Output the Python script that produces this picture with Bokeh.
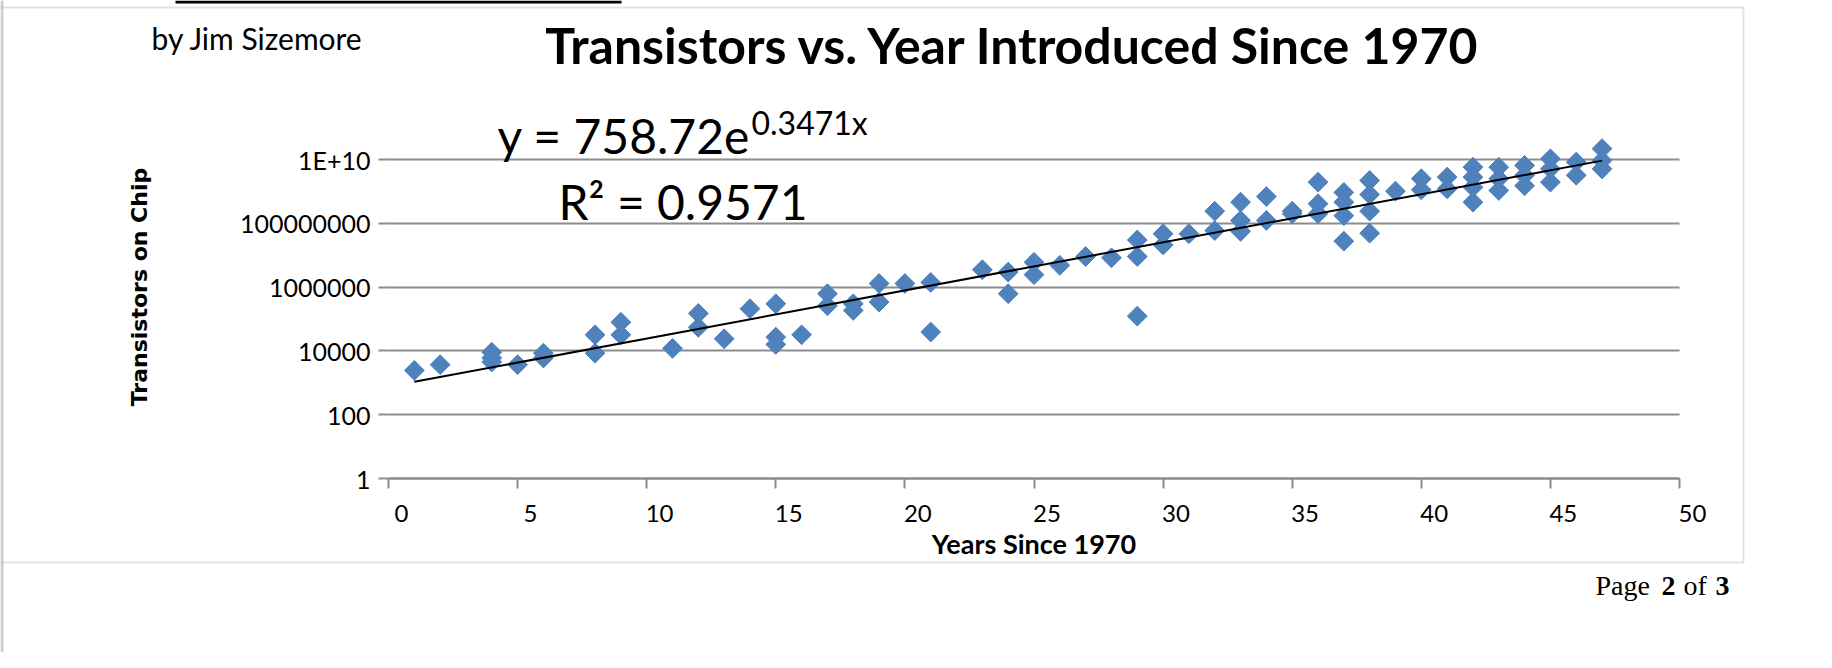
import numpy as np
from bokeh.plotting import figure
from bokeh.models import (Range1d, FixedTicker, LinearAxis, LogAxis, LogScale,
                          CustomJSTickFormatter, Label, BoxAnnotation, Grid)
from bokeh.embed import file_html
from bokeh.resources import INLINE

# ---------------- data ----------------
years_since_1970 = [1, 2, 4, 4, 4, 5, 6, 6, 8, 8, 9, 9, 11, 12, 12, 13, 14,
                    15, 15, 15, 16, 17, 17, 18, 18, 19, 19, 20, 21, 21, 23,
                    24, 24, 25, 25, 26, 27, 28, 29, 29, 29, 30, 30, 31, 32, 32,
                    33, 33, 33, 34, 34, 35, 35, 36, 36, 36, 37, 37, 37, 37,
                    38, 38, 38, 38, 39, 40, 40, 41, 41, 42, 42, 42, 42,
                    43, 43, 43, 44, 44, 44, 45, 45, 45, 46, 46, 47, 47, 47]
transistors = [2450, 3700, 9100, 6000, 4500, 3700, 8500, 6000, 32000, 8500,
               79000, 32000, 12000, 150000, 55000, 24000, 210000,
               300000, 27000, 16000, 32000, 620000, 260000, 300000, 186000,
               1300000, 340000, 1300000, 1400000, 39000, 3500000,
               2950000, 620000, 6000000, 2450000, 4800000, 9100000, 8300000,
               30000000, 9100000, 123000, 47000000, 21000000, 47000000,
               240000000, 59000000, 460000000, 123000000, 56000000,
               690000000, 123000000, 240000000, 200000000,
               1950000000, 410000000, 200000000,
               930000000, 460000000, 174000000, 27500000,
               2200000000, 800000000, 240000000, 49000000,
               1020000000, 2500000000, 1120000000, 2800000000, 1200000000,
               5750000000, 2800000000, 1350000000, 460000000,
               5750000000, 2500000000, 1070000000,
               6500000000, 3200000000, 1500000000,
               10500000000, 5100000000, 1950000000,
               8300000000, 3200000000,
               21900000000, 9300000000, 5100000000]
x_ticks = [0, 5, 10, 15, 20, 25, 30, 35, 40, 45, 50]
y_ticks = [1, 100, 10000, 1000000, 100000000, 10000000000]
trend_a = 758.72
trend_b = 0.3471
trend_x = [1, 47]
trend_y = [trend_a * np.exp(trend_b * v) for v in trend_x]

title_text = "Transistors vs. Year Introduced Since 1970"
author_text = "by Jim Sizemore"
eq_main = "y = 758.72e"
eq_sup = "0.3471x"
r2_text = "R² = 0.9571"

# ---------------- layout / styles ----------------
W, H = 1816, 652
PX_X0, PX_PER_X = 388, 25.82        # canvas px of x=0, px per year
PX_Y1, PX_PER_DEC = 478, 31.9       # canvas px (from top) of y=1, px per decade
BLUE = "#4F81BD"
GRID = "#8C8C8C"
BORDER = "#A0A0A0"
SANS = "Lato"

x_start = -PX_X0 / PX_PER_X
x_end = (W - PX_X0) / PX_PER_X
y_start = 10 ** (-(H - PX_Y1) / PX_PER_DEC)
y_end = 10 ** (PX_Y1 / PX_PER_DEC)

p = figure(width=W, height=H, title=None,
           x_range=Range1d(x_start, x_end), y_range=Range1d(y_start, y_end),
           y_axis_type="log", x_axis_location=None, y_axis_location=None,
           output_backend="svg", toolbar_location=None,
           min_border=0, min_border_left=0, min_border_right=0,
           min_border_top=0, min_border_bottom=0)
p.y_scale = LogScale()
p.outline_line_color = None
p.background_fill_color = "white"
p.border_fill_color = "white"
p.grid.visible = False

# page decorations: left page edge, cut-off underline at the top, chart border
p.add_layout(BoxAnnotation(left=0, right=3, top=0, bottom=H,
                           left_units="canvas", right_units="canvas",
                           top_units="canvas", bottom_units="canvas",
                           fill_color="#C9CED8", fill_alpha=1, line_color=None))
p.add_layout(BoxAnnotation(left=175, right=621, top=0, bottom=3,
                           left_units="canvas", right_units="canvas",
                           top_units="canvas", bottom_units="canvas",
                           fill_color="black", fill_alpha=1, line_color=None))
p.add_layout(BoxAnnotation(left=-10, right=1743, top=7, bottom=562,
                           left_units="canvas", right_units="canvas",
                           top_units="canvas", bottom_units="canvas",
                           fill_color=None, line_color=BORDER, line_width=2))

# horizontal grid lines, limited to the x extent of the axis
yt = FixedTicker(ticks=y_ticks)
if "cross_bounds" in Grid.properties():
    p.add_layout(Grid(dimension=1, ticker=yt, cross_bounds=(x_ticks[0], x_ticks[-1]),
                      grid_line_color=GRID, grid_line_width=2))
else:
    p.segment(x0=[x_ticks[0]] * len(y_ticks), x1=[x_ticks[-1]] * len(y_ticks),
              y0=y_ticks, y1=y_ticks, line_color=GRID, line_width=2)

# y axis
yaxis = LogAxis(fixed_location=0, ticker=yt, bounds=(1, 1e12),
                formatter=CustomJSTickFormatter(
                    code="return tick >= 1e10 ? '1E+10' : tick.toFixed(0);"),
                axis_line_color=None, major_tick_out=10, major_tick_in=0,
                major_tick_line_color=GRID, major_tick_line_width=2,
                minor_tick_line_color=None, major_label_standoff=8,
                major_label_text_font=SANS, major_label_text_font_size="25px",
                major_label_text_color="black",
                axis_label="Transistors on Chip", axis_label_text_font="DejaVu Sans",
                axis_label_text_font_style="bold", axis_label_text_font_size="22px",
                axis_label_text_color="black", axis_label_standoff=85)
p.add_layout(yaxis, "left")

# x axis: ticks drawn at the values, labels set slightly to the right as in the source
p.extra_x_ranges = {"lab": Range1d(x_start - 0.5, x_end - 0.5)}
xaxis = LinearAxis(x_range_name="lab", fixed_location=1,
                   ticker=FixedTicker(ticks=x_ticks,
                                      minor_ticks=[t - 0.5 for t in x_ticks]),
                   bounds=(x_ticks[0] - 0.5, x_ticks[-1] - 0.5),
                   axis_line_color=GRID, axis_line_width=2,
                   major_tick_line_color=None, major_tick_out=0, major_tick_in=0,
                   minor_tick_line_color=GRID, minor_tick_line_width=2,
                   minor_tick_out=10, minor_tick_in=0,
                   major_label_standoff=16,
                   major_label_text_font=SANS, major_label_text_font_size="24px",
                   major_label_text_color="black",
                   axis_label="Years Since 1970", axis_label_text_font=SANS,
                   axis_label_text_font_style="bold",
                   axis_label_text_font_size="27px",
                   axis_label_text_color="black", axis_label_standoff=2)
p.add_layout(xaxis, "below")

# data
p.scatter(years_since_1970, transistors, marker="square", size=14,
          angle=np.pi / 4, fill_color=BLUE, line_color=BLUE)
p.line(trend_x, trend_y, line_color="black", line_width=2)

def lab(x, baseline, text, size, font=SANS, style="normal", align="left"):
    # the svg text sits about 0.35 em below the requested alphabetic baseline
    p.add_layout(Label(x=x, y=baseline - 0.35 * size, x_units="canvas", y_units="canvas",
                       text=text, text_font=font, text_font_size=f"{size}px",
                       text_font_style=style, text_align=align,
                       text_baseline="alphabetic", text_color="black"))

lab(1013, 62, title_text, 50, style="bold", align="center")
lab(151, 48, author_text, 30)
lab(497, 152, eq_main, 48)
lab(751, 133, eq_sup, 32)
lab(558, 218, r2_text, 48)
lab(1595, 595, "Page", 28, font="Liberation Serif")
lab(1661, 595, "2", 28, font="Liberation Serif", style="bold")
lab(1683, 595, "of", 28, font="Liberation Serif")
lab(1715, 595, "3", 28, font="Liberation Serif", style="bold")

open("out.html", "w").write(file_html(p, INLINE))
